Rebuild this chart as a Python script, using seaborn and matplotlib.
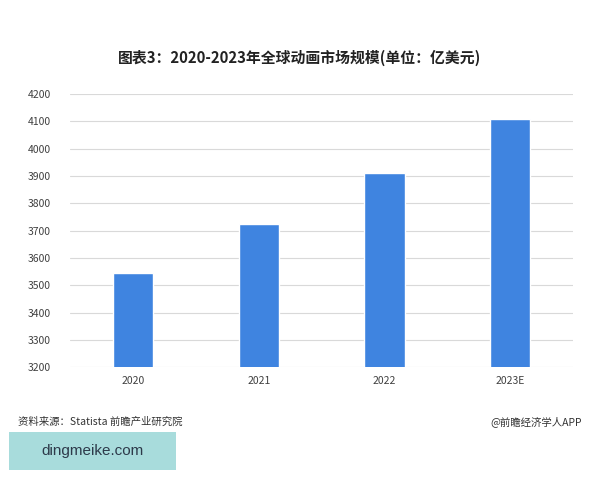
import matplotlib.pyplot as plt
import seaborn as sns
import pandas as pd
from matplotlib.patches import Rectangle

years = ["2020", "2021", "2022", "2023E"]
market_size = [3545, 3723, 3910, 4107]
y_ticks = [3200, 3300, 3400, 3500, 3600, 3700, 3800, 3900, 4000, 4100, 4200]

df = pd.DataFrame({"year": years, "size": market_size})

sns.set_style("white")
plt.rcParams['font.family'] = ['Noto Sans CJK SC', 'DejaVu Sans']

fig = plt.figure(figsize=(6, 4.8), dpi=100)
ax = fig.add_axes([0.117, 0.235, 0.838, 0.569])

sns.barplot(data=df, x="year", y="size", color="#3f84e0", width=0.32,
            saturation=1, ax=ax, zorder=3)

ax.set_ylim(3200, 4200)
ax.set_xlim(-0.5, 3.5)
ax.set_yticks(y_ticks)
ax.yaxis.grid(True, color="#d9d9d9", linewidth=0.8, zorder=0)
ax.set_axisbelow(True)
for s in ax.spines.values():
    s.set_visible(False)
ax.set_xlabel("")
ax.set_ylabel("")
ax.tick_params(axis="both", length=0, labelsize=7.5, colors="#404040")
ax.tick_params(axis="y", pad=14)
ax.tick_params(axis="x", pad=6)

fig.text(0.5, 0.879, "图表3：2020-2023年全球动画市场规模(单位：亿美元)",
         ha="center", va="center", fontsize=10.7, fontweight="bold", color="#222222")
fig.text(0.03, 0.121, "资料来源：Statista 前瞻产业研究院", ha="left", va="center",
         fontsize=7.5, color="#333333")
fig.text(0.97, 0.121, "@前瞻经济学人APP", ha="right", va="center",
         fontsize=7.5, color="#333333")

fig.patches.append(Rectangle((0.015, 0.021), 0.278, 0.079, transform=fig.transFigure,
                             facecolor="#a8dcdc", edgecolor="none"))
fig.text(0.154, 0.061, "dingmeike.com", ha="center", va="center",
         fontsize=11, color="#2d3a4a", family="Liberation Sans")

fig.savefig("out.png", dpi=100)
